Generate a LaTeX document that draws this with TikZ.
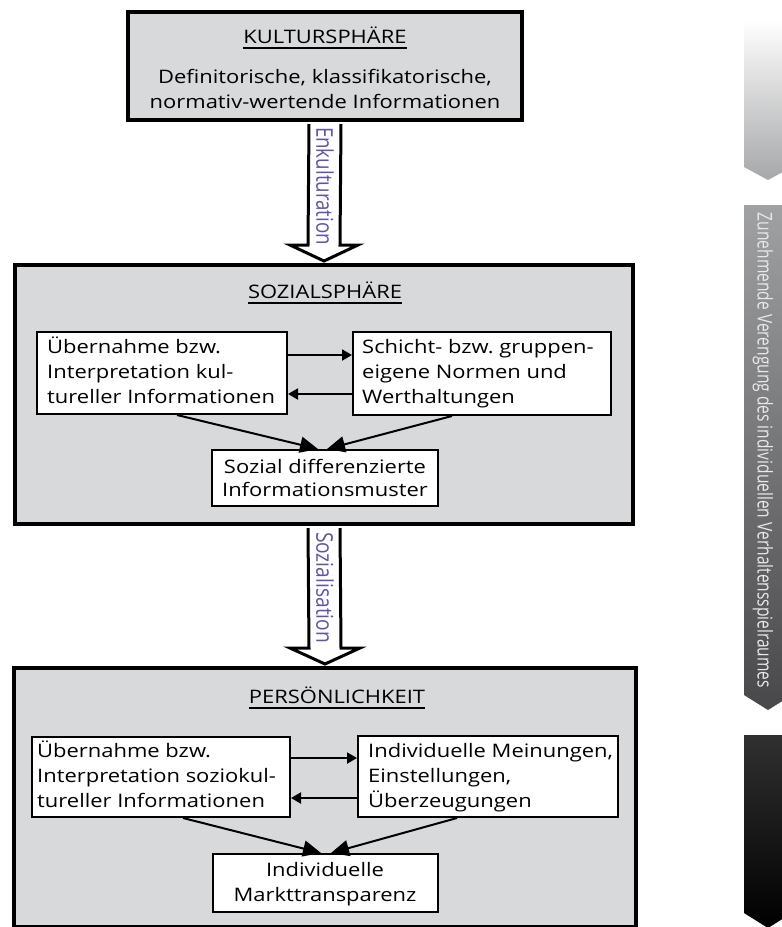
\documentclass[tikz,border=0pt]{standalone}
\usepackage{fontspec}
\setmainfont{Open Sans}[FakeStretch=1.18]
\newfontfamily\labelfont{Open Sans}
\usetikzlibrary{arrows.meta,calc}
\definecolor{spheregray}{RGB}{216,217,219}
\definecolor{labelblue}{RGB}{95,85,165}
\definecolor{bartext}{RGB}{232,232,232}
\definecolor{barAtop}{RGB}{255,255,255}
\definecolor{barAbot}{RGB}{166,167,169}
\definecolor{barBtop}{RGB}{160,161,163}
\definecolor{barBbot}{RGB}{72,72,74}
\definecolor{barCtop}{RGB}{48,48,48}
\definecolor{barCbot}{RGB}{0,0,0}
\newcommand\bodyfont{\fontsize{18.6}{25}\selectfont}

\begin{document}
\begin{tikzpicture}[x=1pt,y=-1pt,
  sphere/.style={draw=black,line width=4pt,fill=spheregray,inner sep=0pt},
  infobox/.style={draw=black,line width=2pt,fill=white,inner sep=0pt},
  body/.style={inner sep=0pt,font=\bodyfont},
  headline/.style={line width=2pt,draw=black},
  flow/.style={draw=black,line width=2pt,-{Triangle[length=10pt,width=11pt]}},
  merge/.style={draw=black,line width=2pt,-{Triangle[length=18pt,width=16pt]}},
  hollow/.style={draw=black,line width=3pt,fill=white,line join=miter},
  shaftlabel/.style={inner sep=0pt,text=labelblue,rotate=-90},
]
\useasboundingbox (0,0) rectangle (782,927);

% ---------- side bar ----------
\shade[top color=barAtop,bottom color=barAbot]
  (744,20) -- (792,20) -- (792,167) -- (768,180) -- (744,167) -- cycle;
\shade[top color=barBtop,bottom color=barBbot]
  (744,205) -- (792,205) -- (792,695) -- (768,710) -- (744,695) -- cycle;
\shade[top color=barCtop,bottom color=barCbot]
  (744,735) -- (792,735) -- (792,913) -- (768,928) -- (744,913) -- cycle;
\node[inner sep=0pt,rotate=-90,text=bartext] (bartext) at (763,450.5)
  {\resizebox{475pt}{15.5pt}{\labelfont Zunehmende Verengung des individuellen Verhaltensspielraumes}};

% ---------- spheres ----------
\node[sphere,minimum width=394pt,minimum height=108pt] (kultur) at (325,66) {};
\node[sphere,minimum width=618pt,minimum height=259pt] (sozial) at (324,394.5) {};
\node[sphere,minimum width=622pt,minimum height=259pt] (pers) at (325,797.5) {};

% ---------- hollow transfer arrows ----------
\path[hollow]
  ($(kultur.south)+(-16,2)$) -- ($(sozial.north)+(-16,-18)$)
  -- ($(sozial.north)+(-34,-18)$) -- ($(sozial.north)+(0,-2)$)
  -- ($(sozial.north)+(34,-18)$) -- ($(sozial.north)+(16,-18)$)
  -- ($(kultur.south)+(16,2)$);
\node[shaftlabel] (enk) at (325,186)
  {\resizebox{118pt}{17.5pt}{\labelfont Enkulturation}};

\path[hollow]
  ($(sozial.south)+(-16,2)$) -- ($(pers.north)+(-16,-18)$)
  -- ($(pers.north)+(-35,-18)$) -- ($(pers.north)+(0,-2)$)
  -- ($(pers.north)+(35,-18)$) -- ($(pers.north)+(16,-18)$)
  -- ($(sozial.south)+(16,2)$);
\node[shaftlabel] (soz) at (325,587.5)
  {\resizebox{111pt}{17.5pt}{\labelfont Sozialisation}};

% ---------- Kultursphäre ----------
\node[body,anchor=base] (kt) at (325,43) {KULTURSPHÄRE};
\draw[headline] ($(kt.base west)+(0,4.5)$) -- ($(kt.base east)+(0,4.5)$);
\node[body,anchor=base] (kb) at (325,83)
  {\parbox[t]{380pt}{\centering Definitorische, klassifikatorische,\\normativ-wertende Informationen}};

% ---------- Sozialsphäre ----------
\node[body,anchor=base] (st) at (325,298) {SOZIALSPHÄRE};
\draw[headline] ($(st.base west)+(0,4.5)$) -- ($(st.base east)+(0,4.5)$);

\node[infobox,minimum width=250pt,minimum height=82pt] (sl) at (162,373) {};
\node[infobox,minimum width=258pt,minimum height=83pt] (sr) at (482,373.5) {};
\node[infobox,minimum width=226pt,minimum height=56pt] (sc) at (325,478) {};

\node[body,anchor=base west] (sltext) at (47,353)
  {\parbox[t]{300pt}{\raggedright Übernahme bzw.\\Interpretation kul-\\tureller Informationen}};
\node[body,anchor=base west] (srtext) at (362,353)
  {\parbox[t]{300pt}{\raggedright Schicht- bzw.\ gruppen-\\eigene Normen und\\Werthaltungen}};
\node[body,anchor=base] (sctext) at (325,473)
  {\parbox[t]{300pt}{\centering\fontsize{18.6}{23}\selectfont Sozial differenzierte\\Informationsmuster}};

\draw[flow] (sl.east |- 0,355) -- (sr.west |- 0,355);
\draw[flow] (sr.west |- 0,394) -- (sl.east |- 0,394);
\draw[merge] (sl.south -| 177,0) -- (sc.north -| 318,0);
\draw[merge] (sr.south -| 452,0) -- (sc.north -| 327,0);

% ---------- Persönlichkeit ----------
\node[body,anchor=base] (pt) at (337,703) {PERSÖNLICHKEIT};
\draw[headline] ($(pt.base west)+(0,4.5)$) -- ($(pt.base east)+(0,4.5)$);

\node[infobox,minimum width=258pt,minimum height=80pt] (pl) at (161,777) {};
\node[infobox,minimum width=260pt,minimum height=81pt] (pr) at (488,776.5) {};
\node[infobox,minimum width=225pt,minimum height=58pt] (pc) at (325.5,883) {};

\node[body,anchor=base west] (pltext) at (37,757)
  {\parbox[t]{300pt}{\raggedright Übernahme bzw.\\Interpretation soziokul-\\tureller Informationen}};
\node[body,anchor=base west] (prtext) at (368,757)
  {\parbox[t]{300pt}{\raggedright Individuelle Meinungen,\\Einstellungen,\\Überzeugungen}};
\node[body,anchor=base] (pctext) at (325,876)
  {\parbox[t]{300pt}{\centering Individuelle\\Markttransparenz}};

\draw[flow] (pl.east |- 0,758) -- (pr.west |- 0,758);
\draw[flow] (pr.west |- 0,798) -- (pl.east |- 0,798);
\draw[merge] (pl.south -| 183,0) -- (pc.north -| 321,0);
\draw[merge] (pr.south -| 457,0) -- (pc.north -| 331,0);
\end{tikzpicture}
\end{document}
